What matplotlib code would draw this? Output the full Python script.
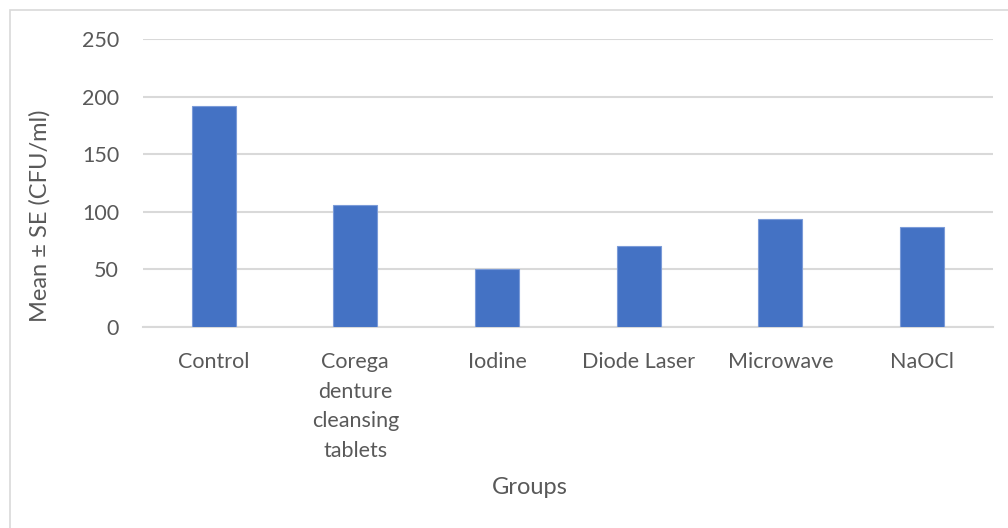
import matplotlib
matplotlib.use("Agg")
import matplotlib.pyplot as plt
from matplotlib.patches import Rectangle

groups = ["Control", "Corega\ndenture\ncleansing\ntablets", "Iodine",
          "Diode Laser", "Microwave", "NaOCl"]
means = [192, 106, 50, 70, 93.5, 86.5]
yticks = [0, 50, 100, 150, 200, 250]

plt.rcParams['font.family'] = ['Lato', 'DejaVu Sans']
text_color = "#595959"
grid_color = "#d9d9d9"
bar_color = "#4472C4"

fig = plt.figure(figsize=(10.08, 5.28), dpi=100)
# chart-area border
fig.patches.append(Rectangle((10 / 1008, -0.1), 1.2, 1.1 - 10 / 528,
                             transform=fig.transFigure, fill=False,
                             edgecolor=grid_color, linewidth=1.2))

ax = fig.add_axes([142.7 / 1008, 1 - 327 / 528, (993 - 142.7) / 1008, (327 - 39) / 528])
x = range(len(groups))
ax.bar(x, means, width=0.31, color=bar_color, edgecolor="#7b9bd8",
       linewidth=0.8, zorder=3)

ax.set_xlim(-0.5, len(groups) - 0.5)
ax.set_ylim(0, 250)
ax.set_yticks(yticks)
ax.set_xticks(list(x))
ax.set_xticklabels(groups, linespacing=1.6, va="top")
ax.yaxis.grid(True, color=grid_color, linewidth=1.5, zorder=0)
for s in ["top", "right", "left"]:
    ax.spines[s].set_visible(False)
ax.spines["bottom"].set_color(grid_color)
ax.spines["bottom"].set_linewidth(1.5)
ax.spines["bottom"].set_zorder(1)
ax.tick_params(axis="both", length=0, labelsize=15.5, colors=text_color)
ax.tick_params(axis="y", pad=17)
ax.tick_params(axis="x", pad=18)

# axis titles
fig.text(40 / 1008, 1 - 216 / 528, "Mean ± SE (CFU/ml)", fontsize=17,
         color=text_color, rotation=90, ha="center", va="center")
fig.text(530 / 1008, 1 - 488 / 528, "Groups", fontsize=17, color=text_color,
         ha="center", va="center")

fig.savefig("out.png", dpi=100, facecolor="white")
